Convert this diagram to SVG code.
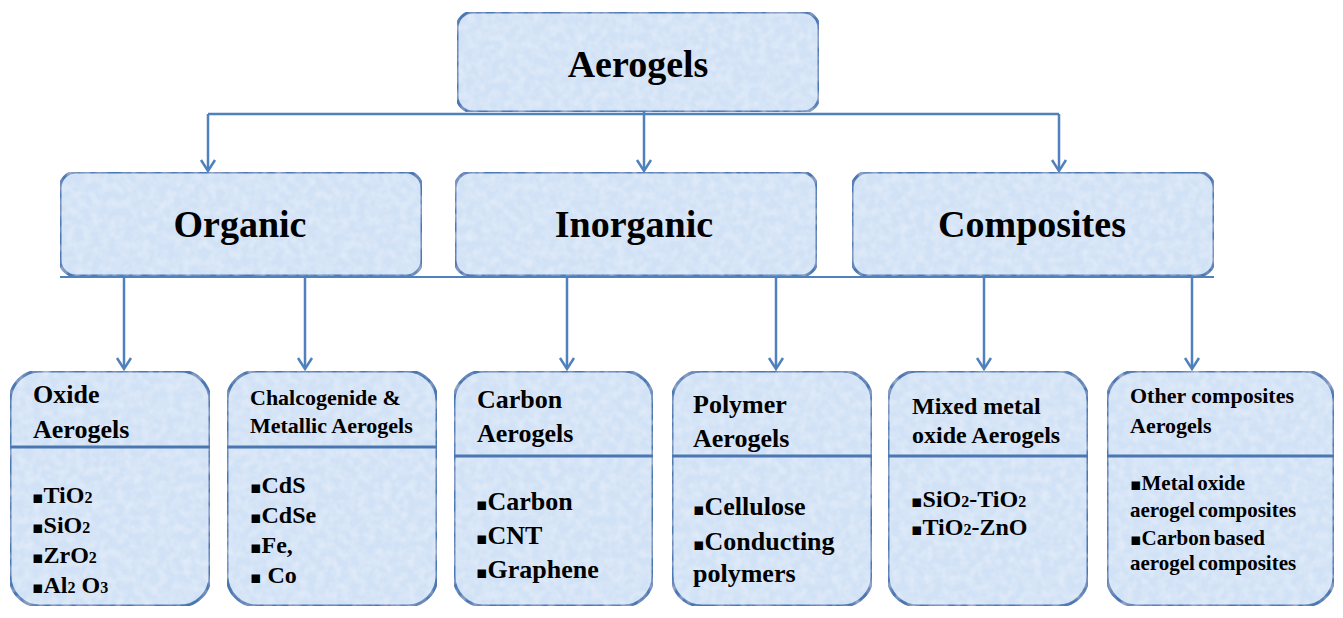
<svg xmlns="http://www.w3.org/2000/svg" width="1343" height="618" viewBox="0 0 1343 618">
<defs>
<filter id="tex" x="0" y="0" width="100%" height="100%">
<feTurbulence type="fractalNoise" baseFrequency="0.12" numOctaves="2" seed="3" result="n"/>
<feColorMatrix in="n" type="matrix" values="0 0 0 0 1  0 0 0 0 1  0 0 0 0 1  0 0 0 0.6 -0.22" result="w"/>
<feComposite in="w" in2="SourceGraphic" operator="in" result="wc"/>
<feMerge><feMergeNode in="SourceGraphic"/><feMergeNode in="wc"/></feMerge>
</filter>
</defs>
<style>
.box{fill:#d2e2f6;stroke:#4a77b2;stroke-width:3}
.div{stroke:#4a77b2;stroke-width:3;fill:none}
.con{stroke:#4f81bd;stroke-width:2.5;fill:none}
.thin{stroke:#4f81bd;stroke-width:1.8;fill:none}
.head{stroke:#4f81bd;stroke-width:2.5;fill:none;stroke-linejoin:miter}
.tx{font-family:"Liberation Serif","DejaVu Serif","Times New Roman",serif;font-weight:bold;fill:#000}
.t1{font-size:38px}
.t3{font-size:26px}
.t3s{font-size:22px}
.b{font-size:24px}
.bs{font-size:21px;word-spacing:-2px}
.sub{font-size:16px}
.bul{font-family:"DejaVu Sans",sans-serif;font-size:17px}
</style>

<g id="connectors">
<path class="con" d="M208,114 H1059 M208,114 V170 M644,112 V170 M1059,114 V170"/>
<path class="thin" d="M60,277 H1214"/>
<path class="con" d="M124,277 V368 M305,277 V368 M567,277 V368 M776,277 V368 M984,277 V368 M1192,277 V368"/>
<g class="head">
<path d="M201,160 L208,171 L215,160"/>
<path d="M637,160 L644,171 L651,160"/>
<path d="M1052,160 L1059,171 L1066,160"/>
<path d="M117,358 L124,369 L131,358"/>
<path d="M298,358 L305,369 L312,358"/>
<path d="M560,358 L567,369 L574,358"/>
<path d="M769,358 L776,369 L783,358"/>
<path d="M977,358 L984,369 L991,358"/>
<path d="M1185,358 L1192,369 L1199,358"/>
</g>
</g>

<g id="aerogels">
<rect class="box" x="457" y="12" width="362" height="100" rx="16" filter="url(#tex)"/>
<text class="tx t1" x="638" y="77" text-anchor="middle">Aerogels</text>
</g>

<g id="organic">
<rect class="box" x="60" y="172" width="362" height="104" rx="16" filter="url(#tex)"/>
<text class="tx t1" x="240" y="237" text-anchor="middle">Organic</text>
</g>
<g id="inorganic">
<rect class="box" x="455" y="172" width="362" height="104" rx="16" filter="url(#tex)"/>
<text class="tx t1" x="634" y="237" text-anchor="middle">Inorganic</text>
</g>
<g id="composites">
<rect class="box" x="852" y="172" width="362" height="104" rx="16" filter="url(#tex)"/>
<text class="tx t1" x="1032" y="237" text-anchor="middle">Composites</text>
</g>

<g id="oxide">
<rect class="box" x="10" y="371" width="200" height="235" rx="30" filter="url(#tex)"/>
<path class="div" d="M10,447 H210"/>
<text class="tx t3" x="33" y="403">Oxide</text>
<text class="tx t3" x="33" y="438">Aerogels</text>
<text class="tx b" x="32" y="503"><tspan class="bul">▪</tspan>TiO<tspan class="sub">2</tspan></text>
<text class="tx b" x="32" y="533"><tspan class="bul">▪</tspan>SiO<tspan class="sub">2</tspan></text>
<text class="tx b" x="32" y="563"><tspan class="bul">▪</tspan>ZrO<tspan class="sub">2</tspan></text>
<text class="tx b" x="32" y="593"><tspan class="bul">▪</tspan>Al<tspan class="sub">2</tspan> O<tspan class="sub">3</tspan></text>
</g>

<g id="chalcogenide">
<rect class="box" x="227" y="371" width="210" height="235" rx="30" filter="url(#tex)"/>
<path class="div" d="M227,447 H437"/>
<text class="tx t3s" x="250" y="405">Chalcogenide &amp;</text>
<text class="tx t3s" x="250" y="433">Metallic Aerogels</text>
<text class="tx b" x="250" y="493"><tspan class="bul">▪</tspan>CdS</text>
<text class="tx b" x="250" y="523"><tspan class="bul">▪</tspan>CdSe</text>
<text class="tx b" x="250" y="553"><tspan class="bul">▪</tspan>Fe,</text>
<text class="tx b" x="250" y="583"><tspan class="bul">▪</tspan> Co</text>
</g>

<g id="carbon">
<rect class="box" x="454" y="371" width="199" height="235" rx="30" filter="url(#tex)"/>
<path class="div" d="M454,456 H653"/>
<text class="tx t3" x="477" y="408">Carbon</text>
<text class="tx t3" x="477" y="442">Aerogels</text>
<text class="tx t3" x="476" y="510"><tspan class="bul">▪</tspan>Carbon</text>
<text class="tx t3" x="476" y="544"><tspan class="bul">▪</tspan>CNT</text>
<text class="tx t3" x="476" y="578"><tspan class="bul">▪</tspan>Graphene</text>
</g>

<g id="polymer">
<rect class="box" x="672" y="371" width="200" height="235" rx="30" filter="url(#tex)"/>
<path class="div" d="M672,456 H872"/>
<text class="tx t3" x="693" y="413">Polymer</text>
<text class="tx t3" x="693" y="447">Aerogels</text>
<text class="tx t3" x="693" y="515"><tspan class="bul">▪</tspan>Cellulose</text>
<text class="tx t3" x="693" y="550"><tspan class="bul">▪</tspan>Conducting</text>
<text class="tx t3" x="693" y="582">polymers</text>
</g>

<g id="mixed">
<rect class="box" x="888" y="371" width="200" height="235" rx="30" filter="url(#tex)"/>
<path class="div" d="M888,456 H1088"/>
<text class="tx b" x="912" y="414">Mixed metal</text>
<text class="tx b" x="912" y="443">oxide Aerogels</text>
<text class="tx b" x="911" y="507"><tspan class="bul">▪</tspan>SiO<tspan class="sub">2</tspan>-TiO<tspan class="sub">2</tspan></text>
<text class="tx b" x="911" y="535"><tspan class="bul">▪</tspan>TiO<tspan class="sub">2</tspan>-ZnO</text>
</g>

<g id="other">
<rect class="box" x="1107" y="371" width="227" height="235" rx="30" filter="url(#tex)"/>
<path class="div" d="M1107,456 H1334"/>
<text class="tx t3s" x="1130" y="403">Other composites</text>
<text class="tx t3s" x="1130" y="433">Aerogels</text>
<text class="tx bs" x="1130" y="490"><tspan class="bul">▪</tspan>Metal oxide</text>
<text class="tx bs" x="1130" y="517">aerogel composites</text>
<text class="tx bs" x="1130" y="545"><tspan class="bul">▪</tspan>Carbon based</text>
<text class="tx bs" x="1130" y="570">aerogel composites</text>
</g>
</svg>
